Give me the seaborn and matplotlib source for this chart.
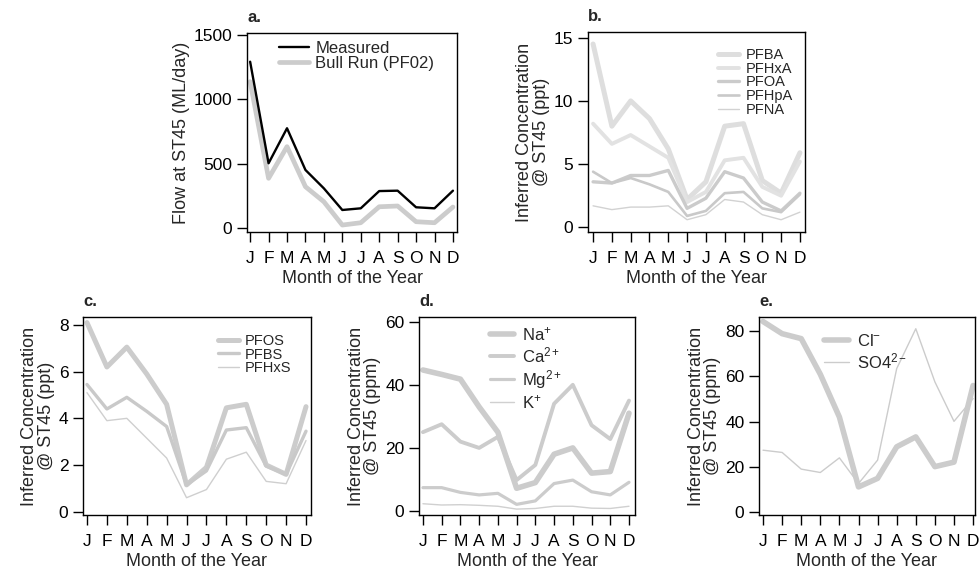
import seaborn as sns
import matplotlib.pyplot as plt

# month axis
months = ['J', 'F', 'M', 'A', 'M', 'J', 'J', 'A', 'S', 'O', 'N', 'D']
month_idx = list(range(12))

# panel a - flow
flow_measured = [1292, 503, 775, 451, 308, 140, 153, 287, 290, 161, 153, 290]
flow_bull_run = [1137, 386, 632, 321, 204, 23, 41, 165, 171, 49, 41, 163]

# panel b - PFCAs (ppt)
pfba = [14.5, 8.0, 10.0, 8.6, 6.2, 2.2, 3.6, 8.0, 8.2, 3.7, 2.7, 5.9]
pfhxa = [8.2, 6.6, 7.3, 6.4, 5.5, 2.0, 2.8, 5.3, 5.5, 3.2, 2.5, 5.2]
pfoa = [3.6, 3.5, 4.1, 4.1, 4.5, 1.5, 2.3, 4.4, 3.9, 2.0, 1.3, 2.7]
pfhpa = [4.4, 3.5, 3.9, 3.4, 2.8, 0.9, 1.3, 2.7, 2.8, 1.5, 1.2, 2.6]
pfna = [1.7, 1.4, 1.6, 1.6, 1.7, 0.6, 1.0, 2.2, 2.0, 1.0, 0.6, 1.2]

# panel c - PFSAs (ppt)
pfos = [8.1, 6.2, 7.05, 5.9, 4.6, 1.15, 1.9, 4.45, 4.6, 2.0, 1.6, 4.5]
pfbs = [5.45, 4.4, 4.9, 4.3, 3.65, 1.15, 1.75, 3.5, 3.6, 1.95, 1.6, 3.45]
pfhxs = [5.1, 3.9, 4.0, 3.15, 2.3, 0.6, 0.95, 2.25, 2.55, 1.3, 1.2, 3.05]

# panel d - cations (ppm)
na = [44.7, 43.3, 41.8, 33.0, 25.0, 7.2, 9.0, 18.0, 20.0, 12.0, 12.5, 31.0]
ca = [25.0, 27.5, 22.0, 20.0, 23.5, 9.8, 14.6, 34.0, 40.0, 27.2, 22.8, 35.0]
mg = [7.4, 7.4, 5.9, 5.1, 5.6, 2.1, 3.2, 8.7, 9.8, 6.1, 5.1, 9.1]
k = [2.3, 1.9, 2.0, 1.8, 1.5, 0.6, 0.8, 1.5, 1.5, 0.9, 0.8, 1.5]

# panel e - anions (ppm)
cl = [84.4, 79.0, 76.8, 61.0, 42.0, 11.0, 14.8, 28.8, 33.2, 20.0, 22.0, 56.0]
so4 = [27.3, 26.3, 18.9, 17.4, 23.9, 12.5, 22.9, 63.5, 81.2, 57.6, 40.1, 50.2]

sns.set_style('ticks')
plt.rcParams['font.family'] = ['Liberation Sans', 'DejaVu Sans']
plt.rcParams['mathtext.fontset'] = 'custom'
plt.rcParams['mathtext.rm'] = 'Liberation Sans'
plt.rcParams['mathtext.it'] = 'Liberation Sans:italic'
plt.rcParams['mathtext.bf'] = 'Liberation Sans:bold'

fig = plt.figure(figsize=(9.8, 5.69), dpi=100)


def make_axes(x0, x1, y0, y1):
    # pixel box -> figure fractions
    return fig.add_axes([x0 / 980, 1 - y1 / 569, (x1 - x0) / 980, (y1 - y0) / 569])


def style_axes(ax, ylabel, yticks, ylim, xlim, tag):
    ax.set_xticks(month_idx)
    ax.set_xticklabels(months)
    ax.set_yticks(yticks)
    ax.set_xlim(*xlim)
    ax.set_ylim(*ylim)
    ax.set_xlabel('Month of the Year', fontsize=13, labelpad=3)
    ax.set_ylabel(ylabel, fontsize=13, labelpad=3, linespacing=0.95)
    ax.tick_params(direction='out', length=7.5, width=1, labelsize=12.5, pad=3, colors='black')
    ax.tick_params(axis='x', pad=6)
    for s in ax.spines.values():
        s.set_visible(True)
        s.set_linewidth(1.0)
        s.set_color('black')
    ax.text(0.0, 1.04, tag, transform=ax.transAxes, fontsize=12, fontweight='bold',
            ha='left', va='bottom')


def line(ax, y, color, lw, label):
    sns.lineplot(x=month_idx, y=y, ax=ax, color=color, linewidth=lw, label=label)


conc_label = 'Inferred Concentration\n@ ST45 (ppt)'
ion_label = 'Inferred Concentration\n@ ST45 (ppm)'

# a
ax = make_axes(247, 457, 33, 232)
line(ax, flow_bull_run, '#cccccc', 3.4, 'Bull Run (PF02)')
line(ax, flow_measured, 'black', 1.7, 'Measured')
h, l = ax.get_legend_handles_labels()
ax.legend(h[::-1], l[::-1], loc='upper left', bbox_to_anchor=(0.15, 0.96), frameon=False,
          fontsize=12, handlelength=1.8, handletextpad=0.4, labelspacing=0.0,
          borderpad=0, borderaxespad=0)
style_axes(ax, 'Flow at ST45 (ML/day)', [0, 500, 1000, 1500], (-31, 1515), (-0.17, 11.22), 'a.')

# b
ax = make_axes(588, 805, 32, 232)
line(ax, pfba, '#dedede', 3.6, 'PFBA')
line(ax, pfhxa, '#e2e2e2', 2.8, 'PFHxA')
line(ax, pfoa, '#cbcbcb', 2.4, 'PFOA')
line(ax, pfhpa, '#c9c9c9', 1.9, 'PFHpA')
line(ax, pfna, '#d2d2d2', 1.0, 'PFNA')
ax.legend(loc='upper left', bbox_to_anchor=(0.6, 0.92), frameon=False, fontsize=10.5,
          handlelength=1.4, handletextpad=0.5, labelspacing=-0.02, borderpad=0, borderaxespad=0)
style_axes(ax, conc_label, [0, 5, 10, 15], (-0.37, 15.45), (-0.27, 11.27), 'b.')

# c
ax = make_axes(83, 311, 317, 515)
line(ax, pfos, '#cccccc', 3.6, 'PFOS')
line(ax, pfbs, '#c9c9c9', 2.4, 'PFBS')
line(ax, pfhxs, '#cfcfcf', 1.0, 'PFHxS')
ax.legend(loc='upper left', bbox_to_anchor=(0.59, 0.915), frameon=False, fontsize=10.5,
          handlelength=1.5, handletextpad=0.4, labelspacing=-0.02, borderpad=0, borderaxespad=0)
style_axes(ax, conc_label, [0, 2, 4, 6, 8], (-0.14, 8.34), (-0.2, 11.25), 'c.')

# d
ax = make_axes(419, 635, 317, 515)
line(ax, na, '#cccccc', 4.0, 'Na$^{+}$')
line(ax, ca, '#cccccc', 2.8, 'Ca$^{2+}$')
line(ax, mg, '#cccccc', 2.3, 'Mg$^{2+}$')
line(ax, k, '#d0d0d0', 1.0, 'K$^{+}$')
ax.legend(loc='upper left', bbox_to_anchor=(0.33, 0.96), frameon=False, fontsize=12,
          handlelength=1.4, handletextpad=0.5, labelspacing=0.15, borderpad=0, borderaxespad=0)
style_axes(ax, ion_label, [0, 20, 40, 60], (-1.27, 61.5), (-0.21, 11.32), 'd.')

# e
ax = make_axes(759, 975, 317, 515)
line(ax, cl, '#cccccc', 4.0, 'Cl$^{-}$')
line(ax, so4, '#cccccc', 1.0, 'SO4$^{2-}$')
ax.legend(loc='upper left', bbox_to_anchor=(0.3, 0.92), frameon=False, fontsize=12,
          handlelength=1.5, handletextpad=0.5, labelspacing=0.15, borderpad=0, borderaxespad=0)
style_axes(ax, ion_label, [0, 20, 40, 60, 80], (-1.46, 86.4), (-0.21, 11.1), 'e.')

fig.savefig('out.png', dpi=100)
